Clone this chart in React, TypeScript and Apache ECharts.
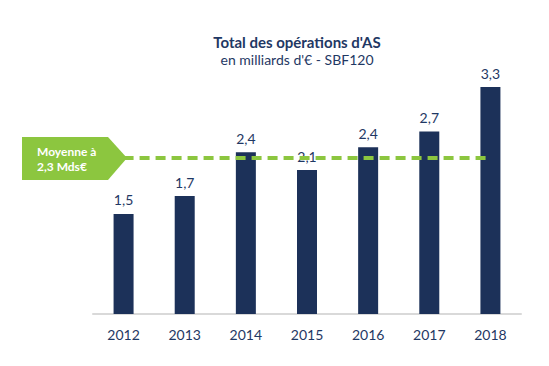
import React, { useEffect, useRef } from "react";
import * as echarts from "echarts";

const categories = ["2012", "2013", "2014", "2015", "2016", "2017", "2018"];
const values = [1.46, 1.72, 2.36, 2.1, 2.43, 2.66, 3.31];
const average = 2.28;
const titleText = "Total des opérations d'AS";
const subtitleText = "en milliards d'€ - SBF120";
const avgLabel = "Moyenne à\n2,3 Mds€";

const NAVY = "#1c3159";
const TEXT = "#1f3864";
const GREEN = "#8cc63f";

export default function App() {
  const ref = useRef<HTMLDivElement>(null);
  useEffect(() => {
    document.body.style.margin = "0";
    if (!ref.current) return;
    const chart = echarts.init(ref.current, null, { renderer: "svg" });
    chart.setOption({
      animation: false,
      backgroundColor: "#ffffff",
      textStyle: { fontFamily: "Lato" },
      title: {
        text: titleText,
        subtext: subtitleText,
        left: 292,
        textAlign: "center",
        top: 29,
        itemGap: 3,
        textStyle: { fontFamily: "Lato", fontSize: 15, fontWeight: "bold", color: TEXT },
        subtextStyle: { fontFamily: "Lato", fontSize: 14, color: TEXT },
      },
      grid: { left: 93, right: 28, top: 74, bottom: 52 },
      xAxis: {
        type: "category",
        data: categories,
        axisLine: { lineStyle: { color: "#d9d9d9", width: 2 } },
        axisTick: { show: false },
        axisLabel: { color: TEXT, fontSize: 14, fontFamily: "Lato", margin: 13 },
      },
      yAxis: {
        type: "value",
        min: 0,
        max: 3.5,
        show: false,
        splitLine: { show: false },
      },
      series: [
        {
          type: "bar",
          data: values,
          barWidth: 20,
          itemStyle: { color: NAVY },
          label: {
            show: true,
            position: "top",
            distance: 7,
            color: TEXT,
            fontSize: 14,
            fontFamily: "Lato",
            formatter: (p: any) => p.value.toFixed(1).replace(".", ","),
          },
          markLine: {
            silent: true,
            symbol: ["none", "none"],
            label: { show: false },
            lineStyle: { color: GREEN, width: 4, type: [10, 6] },
            data: [[{ coord: [0, average] }, { coord: [6, average] }]],
            z: 10,
          },
        },
      ],
      graphic: [
        {
          type: "polygon",
          shape: {
            points: [
              [22, 137],
              [108, 137],
              [127, 158],
              [108, 180],
              [22, 180],
            ],
          },
          style: { fill: GREEN },
          z: 20,
        },
        {
          type: "text",
          x: 37,
          y: 159,
          style: {
            text: avgLabel,
            fill: "#ffffff",
            fontFamily: "Lato",
            fontWeight: "bold",
            fontSize: 12,
            lineHeight: 15,
            verticalAlign: "middle",
            align: "left",
          },
          z: 21,
        },
      ],
    });
    return () => chart.dispose();
  }, []);
  return <div ref={ref} style={{ width: 549, height: 366 }} />;
}
